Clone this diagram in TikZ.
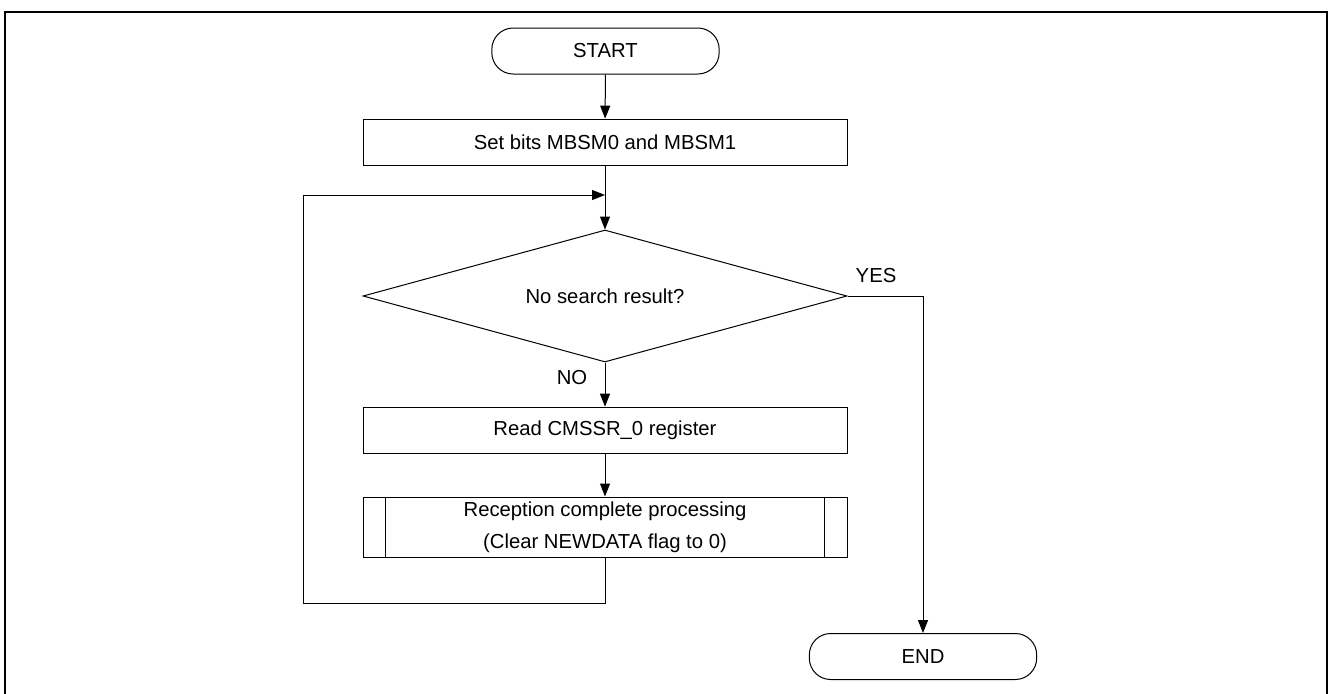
\documentclass[tikz,border=0pt]{standalone}
\usepackage{fontspec}
\setmainfont{Liberation Sans}
\usetikzlibrary{shapes.geometric,arrows.meta,calc}
\begin{document}
\begin{tikzpicture}[x=0.75pt,y=-0.75pt,
  every node/.style={font=\fontsize{15.2}{24}\selectfont, text=black},
  line/.style={draw=black, line width=0.75pt},
  arrow/.style={line, -{Triangle[length=9.75pt,width=7.5pt]}},
  terminal/.style={line, rectangle, rounded corners=16pt, minimum width=170.5pt, minimum height=34.5pt, inner sep=0pt},
  process/.style={line, rectangle, minimum width=363pt, minimum height=35pt, inner sep=0pt, align=center},
  decision/.style={line, diamond, shape aspect=3.67, minimum width=363pt, minimum height=99pt, inner sep=0pt},
  flaglabel/.style={inner sep=0pt}]
\useasboundingbox (0,0) rectangle (1328,693);
% outer frame
\draw[line width=1.5pt] (5,12) rectangle (1326.5,695);

% flow elements
\node[terminal] (start) at (605.5,51) {START};
\node[process] (setbits) at (605,142.5) {Set bits MBSM0 and MBSM1};
\node[decision] (check) at (605,296) {No search result?};
\node[process] (readreg) at (605,430.5) {Read CMSSR\_0 register};
\node[process, minimum height=45pt] (recv) at (605,527) {Reception complete processing\\(Clear NEWDATA flag to 0)};
\node[terminal] (stop) at (923,656.5) {END};

% side bars of the predefined-process box
\draw[line] ([xshift=17.25pt]recv.north west) -- ([xshift=17.25pt]recv.south west);
\draw[line] ([xshift=-17.25pt]recv.north east) -- ([xshift=-17.25pt]recv.south east);

% main flow
\draw[arrow] (start) -- (setbits);
\draw[arrow] (setbits) -- (check);
\draw[arrow] (check) -- (readreg);
\draw[arrow] (readreg) -- (recv);

% loop back above the decision
\coordinate (loopjoin) at (605,195);
\coordinate (loopbottom) at (605,603);
\coordinate (loopleft) at (303,603);
\coordinate (looptop) at (303,195);
\draw[arrow] (recv.south) -- (loopbottom) -- (loopleft) -- (looptop) -- (loopjoin);

% exit to END
\coordinate (yescorner) at (923,296);
\draw[arrow] (check.east) -- (yescorner) -- (stop.north);

% branch labels
\node[flaglabel] (yes) at (876,276) {YES};
\node[flaglabel] (no) at (572,378) {NO};
\end{tikzpicture}
\end{document}
